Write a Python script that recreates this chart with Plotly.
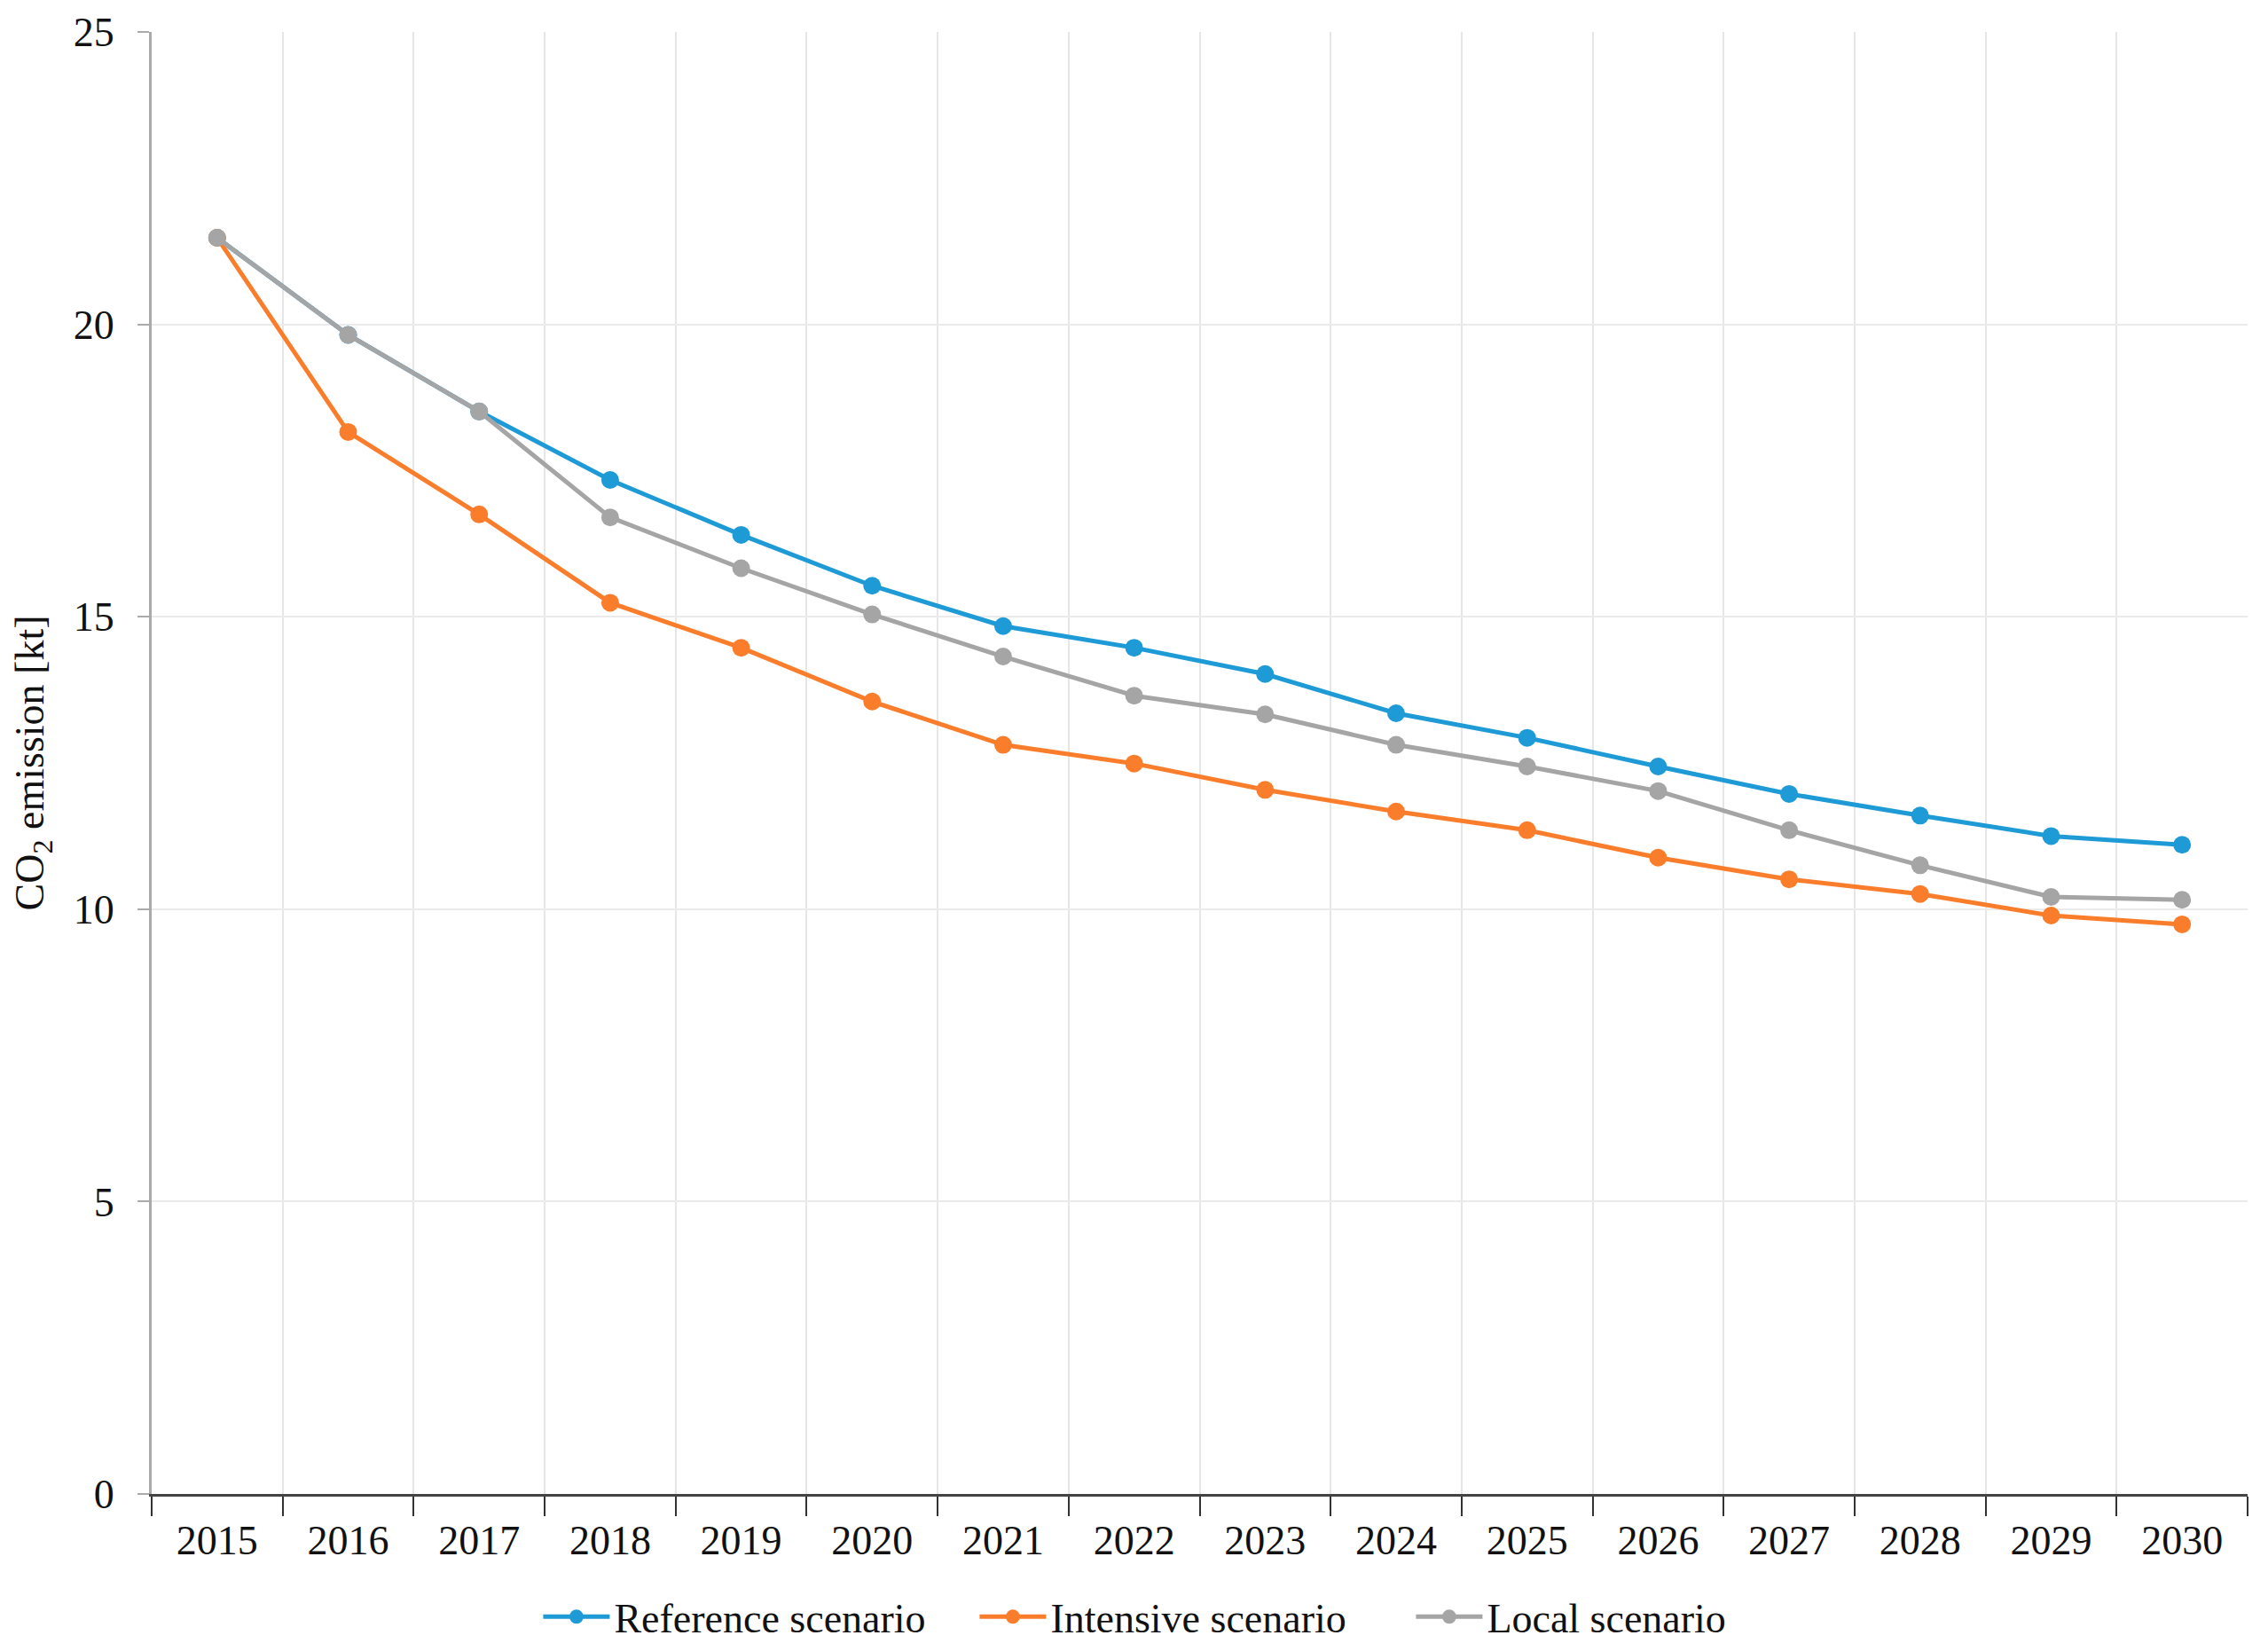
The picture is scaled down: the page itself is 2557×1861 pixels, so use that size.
import plotly.graph_objects as go

years = [str(y) for y in range(2015, 2031)]

reference = [21.48, 19.82, 18.51, 17.34, 16.40, 15.53, 14.84, 14.47,
             14.02, 13.35, 12.93, 12.44, 11.97, 11.60, 11.25, 11.10]
intensive = [21.48, 18.16, 16.75, 15.24, 14.47, 13.55, 12.81, 12.49,
             12.04, 11.67, 11.35, 10.88, 10.51, 10.26, 9.89, 9.74]
local = [21.48, 19.82, 18.51, 16.70, 15.83, 15.04, 14.32, 13.65,
         13.33, 12.81, 12.44, 12.02, 11.35, 10.75, 10.21, 10.16]

series = [
    ("Reference scenario", reference, "#1E9AD6"),
    ("Intensive scenario", intensive, "#FA7D2C"),
    ("Local scenario", local, "#A5A5A5"),
]

font = "Liberation Serif, Times New Roman, serif"

fig = go.Figure()
for name, vals, col in series:
    fig.add_trace(go.Scatter(
        x=years, y=vals, name=name, mode="lines+markers",
        line=dict(color=col, width=5),
        marker=dict(color=col, size=20),
    ))

fig.update_layout(
    width=2557, height=1861,
    margin=dict(l=163, r=31, t=28, b=185, autoexpand=False),
    plot_bgcolor="white", paper_bgcolor="white",
    font=dict(family=font, size=46, color="#111111"),
    showlegend=True,
    legend=dict(orientation="h", x=0.497, xanchor="center",
                y=-0.084, yanchor="middle",
                font=dict(size=46), itemwidth=75, entrywidth=402,
                bgcolor="rgba(0,0,0,0)"),
)

fig.update_xaxes(
    type="category", tickson="boundaries", automargin=False,
    showgrid=True, gridcolor="#E6E6E6", gridwidth=2,
    showline=True, linecolor="#444444", linewidth=3,
    ticks="outside", ticklen=22, tickwidth=2, tickcolor="#333333",
    ticklabelstandoff=10,
    range=[-0.5, 15.5],
)
fig.update_yaxes(
    range=[0, 25], dtick=5, automargin=False,
    showgrid=True, gridcolor="#EBEBEB", gridwidth=2,
    showline=True, linecolor="#AAAAAA", linewidth=3,
    ticks="outside", ticklen=13, tickwidth=2, tickcolor="#AAAAAA",
    ticklabelstandoff=17, zeroline=False,
    title=dict(text="CO<sub>2</sub> emission [kt]", standoff=38,
               font=dict(size=46)),
)

fig.write_html("out.html")
